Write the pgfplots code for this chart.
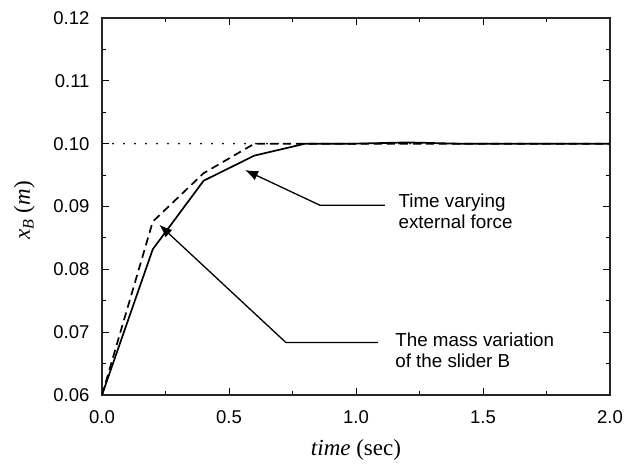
\documentclass[border=0pt]{standalone}
\usepackage{pgfplots}
\pgfplotsset{compat=1.18}
\usetikzlibrary{arrows.meta}
\usepackage{fontspec}
\setmainfont{Liberation Sans}
\newfontfamily\tnr{Liberation Serif}
\begin{document}
\begin{tikzpicture}
\begin{axis}[
  scale only axis,
  width=508pt, height=377pt,
  xmin=0, xmax=2, ymin=0.06, ymax=0.12,
  xtick={0,0.5,1,1.5,2},
  ytick={0.06,0.07,0.08,0.09,0.10,0.11,0.12},
  minor x tick num=1, minor y tick num=1,
  tick align=inside,
  major tick length=7pt, minor tick length=4pt,
  axis line style={line width=1.1pt, black!85},
  every tick/.style={line width=1pt, black},
  tick label style={font=\fontsize{18.5}{21}\selectfont},
  xticklabel style={yshift=-12pt},
  yticklabel style={xshift=-9pt},
  /pgf/number format/assume math mode=true,
  xticklabel={\pgfmathprintnumber[fixed, fixed zerofill, precision=1]{\tick}},
  yticklabel={\pgfmathprintnumber[fixed, fixed zerofill, precision=2]{\tick}},
  scaled y ticks=false,
  xlabel={\tnr\fontsize{23}{26}\selectfont\itshape time \upshape(sec)},
  ylabel={\tnr\fontsize{23}{26}\selectfont\itshape x\textsubscript{B} \upshape(\itshape m\upshape)},
  xlabel style={at={(axis description cs:0.5,-0.146)}, anchor=center},
  ylabel style={at={(axis description cs:-0.153,0.49)}, anchor=center},
]
\addplot[black, line width=2pt, dash pattern=on 0pt off 11pt, line cap=round] coordinates {(0,0.1) (2,0.1)};
\addplot[black, line width=1.7pt, dash pattern=on 8pt off 5pt] coordinates {
(0,0.06) (0.2,0.0876) (0.4,0.0953) (0.6,0.1) (0.8,0.1) (1.0,0.1) (1.2,0.1) (1.4,0.1) (1.6,0.1) (1.8,0.1) (2.0,0.1)};
\addplot[black, line width=1.7pt] coordinates {
(0,0.06) (0.2,0.0832) (0.4,0.0941) (0.6,0.0981) (0.8,0.1) (1.0,0.1) (1.2,0.1002) (1.4,0.1) (1.6,0.1) (1.8,0.1) (2.0,0.1)};
\draw[line width=1.3pt, -{Latex[length=13pt,width=10pt]}] (axis cs:1.114,0.0902) -- (axis cs:0.858,0.0902) -- (axis cs:0.563,0.0958);
\draw[line width=1.3pt, -{Latex[length=13pt,width=10pt]}] (axis cs:1.087,0.06835) -- (axis cs:0.724,0.06835) -- (axis cs:0.2256,0.0871);
\node[anchor=base west, font=\fontsize{18.8}{21}\selectfont, inner sep=0pt] at (axis cs:1.167,0.08987) {Time varying};
\node[anchor=base west, font=\fontsize{18.8}{21}\selectfont, inner sep=0pt] at (axis cs:1.167,0.08653) {external force};
\node[anchor=base west, font=\fontsize{18.8}{21}\selectfont, inner sep=0pt] at (axis cs:1.154,0.06768) {The mass variation};
\node[anchor=base west, font=\fontsize{18.8}{21}\selectfont, inner sep=0pt] at (axis cs:1.154,0.06434) {of the slider B};
\end{axis}
\path (current axis.south west) +(-102pt,-68pt) (current axis.north east) +(18pt,18pt);
\end{tikzpicture}
\end{document}
